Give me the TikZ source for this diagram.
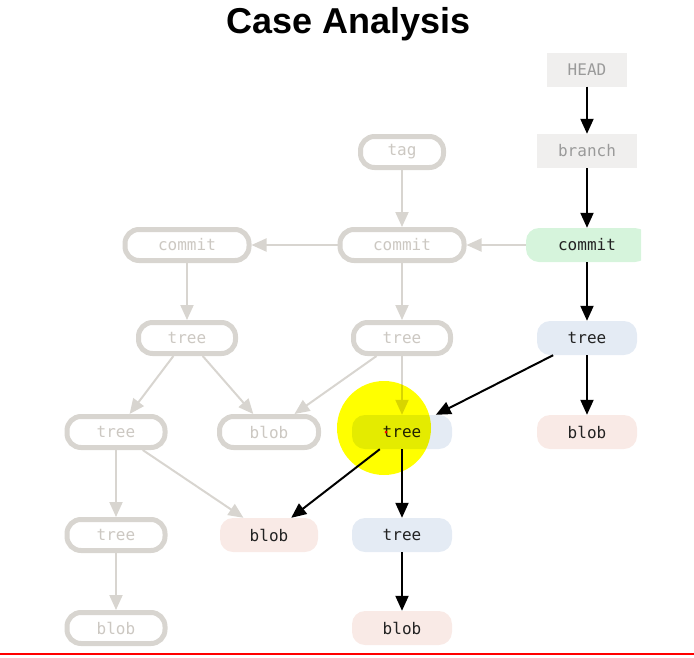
\documentclass[tikz,border=0pt]{standalone}
\usepackage{fontspec}
\setmainfont{Liberation Sans}
\setmonofont{DejaVu Sans Mono}
\usetikzlibrary{arrows.meta}

\definecolor{ghostline}{HTML}{D8D5D0}
\definecolor{ghosttext}{HTML}{CCC8C2}
\definecolor{reffill}{HTML}{F0EFEE}
\definecolor{reftext}{HTML}{9A9A9A}
\definecolor{commitfill}{HTML}{D6F4DC}
\definecolor{treefill}{HTML}{E4EBF4}
\definecolor{blobfill}{HTML}{F9EAE6}
\definecolor{inktext}{HTML}{222222}
\definecolor{markyellow}{HTML}{FFFF00}

\tikzset{
  every node/.style={font=\fontsize{16}{19}\selectfont\ttfamily, inner sep=0pt},
  ghost/.style={draw=ghostline, line width=5pt, fill=white, text=ghosttext,
    rounded corners=14pt, minimum height=31pt},
  refbox/.style={fill=reffill, text=reftext, minimum height=34pt},
  livebox/.style={text=inktext, rounded corners=13pt, minimum height=34pt},
  ghostarrow/.style={draw=ghostline, line width=2pt,
    -{Triangle[length=15pt,width=13pt]}},
  livearrow/.style={draw=black, line width=2pt,
    -{Triangle[length=15pt,width=13pt]}}
}

\begin{document}
\begin{tikzpicture}[x=1pt,y=-1pt]
    \useasboundingbox (0,0) rectangle (694,657);

    \node[font=\fontsize{36}{40}\selectfont\bfseries] (title) at (349,24) {Case Analysis};

    % old history, faded
    \node[ghost, minimum width=83pt] (tag) at (402,152) {tag};
    \node[ghost, minimum width=124pt] (commitC) at (402,245) {commit};
    \node[ghost, minimum width=124pt] (commitL) at (187,245) {commit};
    \node[ghost, minimum width=97pt] (treeL) at (187,338) {tree};
    \node[ghost, minimum width=97pt] (treeC) at (402,338) {tree};
    \node[ghost, minimum width=98pt] (treeFL) at (116,432) {tree};
    \node[ghost, minimum width=99pt] (blobG) at (269,432) {blob};
    \node[ghost, minimum width=98pt] (treeFL2) at (116,535) {tree};
    \node[ghost, minimum width=98pt] (blobFL) at (116,628) {blob};

    % current history
    \node[refbox, minimum width=80pt] (head) at (587,69.5) {HEAD};
    \node[refbox, minimum width=100pt] (branch) at (587,151) {branch};
    \begin{scope}
      \clip (0,0) rectangle (641,657);
      \node[livebox, fill=commitfill, minimum width=122pt] (commitN) at (587,245) {commit};
    \end{scope}
    \node[livebox, fill=treefill, minimum width=100pt] (treeR) at (587,338) {tree};
    \node[livebox, fill=blobfill, minimum width=100pt] (blobR) at (587,432) {blob};
    \node[livebox, fill=treefill, minimum width=100pt] (treeH) at (402,432) {tree};
    \node[livebox, fill=blobfill, minimum width=98pt] (blobM) at (269,535) {blob};
    \node[livebox, fill=treefill, minimum width=100pt] (treeB) at (402,535) {tree};
    \node[livebox, fill=blobfill, minimum width=100pt] (blobB) at (402,628) {blob};

    \draw[ghostarrow] (tag) -- (commitC);
    \draw[ghostarrow] (commitC) -- (commitL);
    \draw[ghostarrow] (commitN) -- (commitC);
    \draw[ghostarrow] (commitL) -- (treeL);
    \draw[ghostarrow] (commitC) -- (treeC);
    \draw[ghostarrow] (treeL) -- (treeFL);
    \draw[ghostarrow] (treeL) -- (blobG);
    \draw[ghostarrow] (treeC) -- (blobG);
    \draw[ghostarrow] (treeC) -- (treeH);
    \draw[ghostarrow] (treeFL) -- (treeFL2);
    \draw[ghostarrow] (treeFL) -- (blobM);
    \draw[ghostarrow] (treeFL2) -- (blobFL);

    \draw[livearrow] (head) -- (branch);
    \draw[livearrow] (branch) -- (commitN);
    \draw[livearrow] (commitN) -- (treeR);
    \draw[livearrow] (treeR) -- (blobR);
    \draw[livearrow] (treeR) -- (treeH);
    \draw[livearrow] (treeH) -- (blobM);
    \draw[livearrow] (treeH) -- (treeB);
    \draw[livearrow] (treeB) -- (blobB);

    % highlight
    \begin{scope}[blend mode=multiply]
      \fill[markyellow] (384,428) circle (47);
    \end{scope}
    \fill[red] (386,432) circle (1.5);

    \draw[red, line width=2pt] (0,654) -- (694,654);
\end{tikzpicture}
\end{document}
